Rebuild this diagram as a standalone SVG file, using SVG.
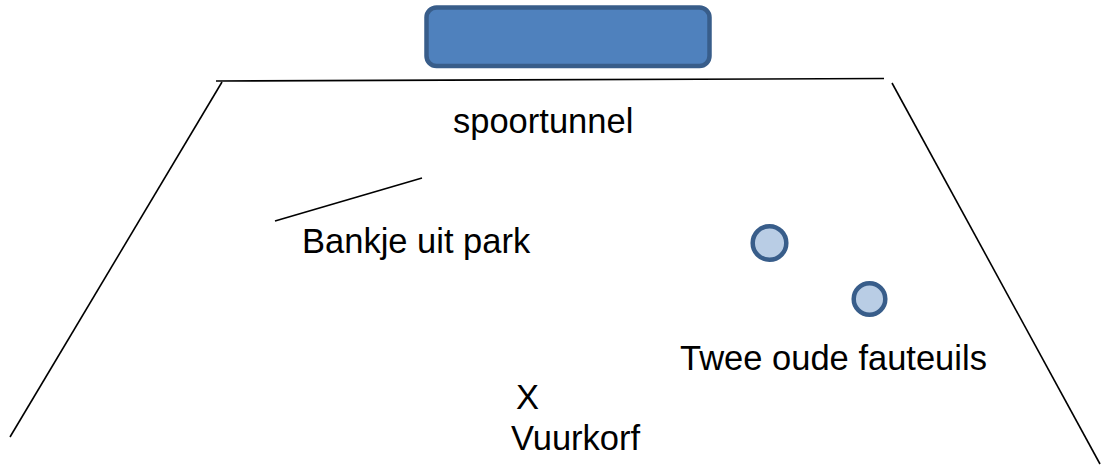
<svg xmlns="http://www.w3.org/2000/svg" width="1103" height="476" viewBox="0 0 1103 476">
<style>
.t{font-family:"Liberation Sans",Arial,sans-serif;font-size:34.5px;fill:#000}
.ln{stroke:#000;stroke-width:1.6;fill:none}
.chair{fill:#B9CDE5;stroke:#385D8A;stroke-width:4.5}
</style>
<rect width="1103" height="476" fill="#fff"/>
<g id="tunnel-block">
<rect x="426.5" y="7.5" width="283" height="58.5" rx="10" fill="#4F81BD" stroke="#385D8A" stroke-width="4.5"/>
</g>
<g id="outline">
<line class="ln" x1="216" y1="81" x2="884" y2="78.5" stroke-width="2.2"/>
<line class="ln" x1="222" y1="82" x2="10" y2="437"/>
<line class="ln" x1="892" y1="83" x2="1100" y2="464"/>
</g>
<g id="spoortunnel"><text class="t" x="453" y="133">spoortunnel</text></g>
<g id="bankje">
<line class="ln" x1="275" y1="221" x2="422" y2="178"/>
<text class="t" x="302" y="253">Bankje uit park</text>
</g>
<g id="fauteuils">
<circle class="chair" cx="769.5" cy="243" r="16.8"/>
<circle class="chair" cx="869.5" cy="299" r="15.8"/>
<text class="t" x="680" y="370">Twee oude fauteuils</text>
</g>
<g id="vuurkorf">
<text class="t" x="516" y="409">X</text>
<text class="t" x="511" y="450">Vuurkorf</text>
</g>
</svg>
